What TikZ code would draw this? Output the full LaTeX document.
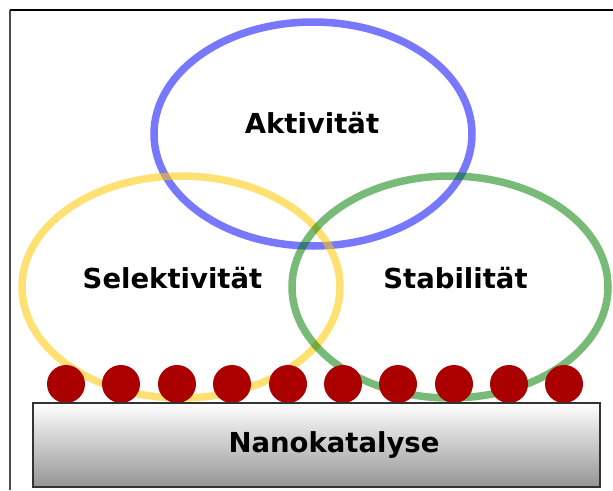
\documentclass[tikz,border=0pt]{standalone}
\usepackage{fontspec}
\setmainfont{DejaVu Sans}
\begin{document}
\begin{tikzpicture}[x=1pt,y=-1pt,
  ring/.style={line width=7.5pt},
  dot/.style={circle,fill=red!67!black,inner sep=0pt,minimum size=38pt},
  lbl/.style={font=\bfseries\fontsize{27.5}{31}\selectfont,anchor=base,inner sep=0pt},
  base/.style={draw=black!80,line width=1.3pt,top color=white,bottom color=black!42,minimum width=567pt,minimum height=84pt,inner sep=0pt}]
\useasboundingbox (0,0) rectangle (613,490);
\coordinate (fa) at (10,490);
\coordinate (fb) at (10,10);
\coordinate (fc) at (613,10);
\draw[black!70,line width=1.2pt] (fa) -- (fb);
\draw[black,line width=1.2pt] (fb) -- (fc);
\draw[ring,draw=blue,draw opacity=0.53] (313,134) ellipse [x radius=159pt,y radius=112pt];
\draw[ring,draw={rgb,255:red,255;green,200;blue,0},draw opacity=0.55] (181,287) ellipse [x radius=159pt,y radius=111pt];
\draw[ring,draw={rgb,255:red,0;green,125;blue,0},draw opacity=0.53] (450,287) ellipse [x radius=158pt,y radius=111pt];
\foreach \i/\x in {1/66,2/121,3/177,4/232,5/288,6/343,7/398,8/454,9/509,10/564}
  \node[dot] (d\i) at (\x,384) {};
\node[base] (nk) at (316.5,445) {};
\node[lbl] (akt) at (312,133) {Aktivität};
\node[lbl] (sel) at (172.5,288) {Selektivität};
\node[lbl] (sta) at (455.5,288) {Stabilität};
\node[lbl] (nano) at (334,452) {Nanokatalyse};
\end{tikzpicture}
\end{document}
